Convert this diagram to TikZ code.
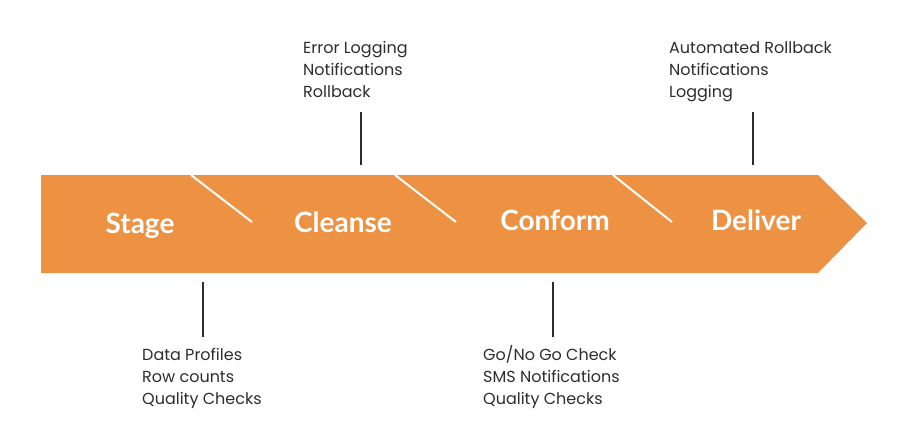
\documentclass[tikz,border=0pt]{standalone}
\usepackage{fontspec}
\setmainfont{Lato}
\newfontfamily\notefont{Poppins}
\definecolor{arroworange}{RGB}{237,146,67}
\definecolor{textgray}{RGB}{45,45,45}
\begin{document}
\begin{tikzpicture}[x=1pt,y=-1pt,
  stagelabel/.style={anchor=base,text=white,font=\fontsize{28}{30}\selectfont\bfseries,inner sep=0},
  notes/.style={anchor=north west,align=left,text=textgray,font=\notefont\fontsize{16}{22}\selectfont,inner sep=0},
  divider/.style={draw=white,line width=2pt},
  tick/.style={draw=textgray,line width=1.5pt}]
\useasboundingbox (0,0) rectangle (906,437);
\fill[arroworange] (41,175) -- (818,175) -- (867,223) -- (818,273) -- (41,273) -- cycle;
% dividers
\coordinate (d1a) at (191,175); \coordinate (d1b) at (252,222);
\coordinate (d2a) at (395,175); \coordinate (d2b) at (456,222);
\coordinate (d3a) at (613,175); \coordinate (d3b) at (672,222);
\draw[divider] (d1a) -- (d1b);
\draw[divider] (d2a) -- (d2b);
\draw[divider] (d3a) -- (d3b);
% stage labels
\node[stagelabel] (stage) at (140,233) {Stage};
\node[stagelabel] (cleanse) at (343,232) {Cleanse};
\node[stagelabel] (conform) at (555,230) {Conform};
\node[stagelabel] (deliver) at (756,230) {Deliver};
% notes
\node[notes] (n1) at (303,37.6) {\strut Error Logging\\Notifications\\Rollback};
\node[notes] (n2) at (669,37.6) {\strut Automated Rollback\\Notifications\\Logging};
\node[notes] (n3) at (142,344.6) {\strut Data Profiles\\Row counts\\Quality Checks};
\node[notes] (n4) at (483,344.6) {\strut Go/No Go Check\\SMS Notifications\\Quality Checks};
% ticks
\coordinate (t1a) at (361,112); \coordinate (t1b) at (361,165);
\coordinate (t2a) at (753,112); \coordinate (t2b) at (753,165);
\coordinate (t3a) at (203,282); \coordinate (t3b) at (203,337);
\coordinate (t4a) at (553,282); \coordinate (t4b) at (553,337);
\draw[tick] (t1a) -- (t1b);
\draw[tick] (t2a) -- (t2b);
\draw[tick] (t3a) -- (t3b);
\draw[tick] (t4a) -- (t4b);
\end{tikzpicture}
\end{document}
